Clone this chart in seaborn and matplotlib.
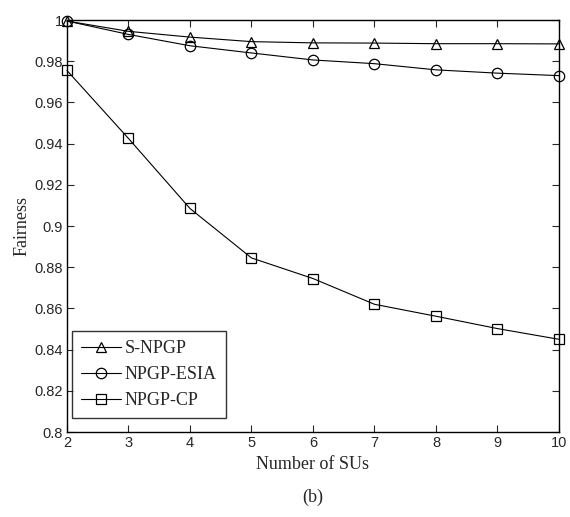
import matplotlib
matplotlib.use("Agg")
import matplotlib.pyplot as plt
import seaborn as sns
import pandas as pd

num_sus = [2, 3, 4, 5, 6, 7, 8, 9, 10]
s_npgp = [0.9995, 0.9945, 0.9917, 0.9895, 0.9889, 0.9888, 0.9885, 0.9885, 0.9884]
npgp_esia = [0.9995, 0.9930, 0.9875, 0.9840, 0.9806, 0.9788, 0.9758, 0.9742, 0.9730]
npgp_cp = [0.9755, 0.9425, 0.9085, 0.8845, 0.8745, 0.8620, 0.8562, 0.8502, 0.8450]
series_names = ["S-NPGP", "NPGP-ESIA", "NPGP-CP"]
series_markers = ["^", "o", "s"]
x_ticks = [2, 3, 4, 5, 6, 7, 8, 9, 10]
y_ticks = [0.8, 0.82, 0.84, 0.86, 0.88, 0.9, 0.92, 0.94, 0.96, 0.98, 1.0]
y_tick_labels = ["0.8", "0.82", "0.84", "0.86", "0.88", "0.9", "0.92", "0.94", "0.96", "0.98", "1"]

sns.set_style("white")
plt.rcParams["font.family"] = ["Liberation Sans", "DejaVu Sans"]

fig = plt.figure(figsize=(5.7, 5.17), dpi=100)
ax = fig.add_axes([0.1175, 0.1644, 0.8632, 0.7969])

for name, vals, mk in zip(series_names, [s_npgp, npgp_esia, npgp_cp], series_markers):
    df = pd.DataFrame({"x": num_sus, "y": vals})
    sns.lineplot(data=df, x="x", y="y", ax=ax, color="black", linewidth=0.8,
                 marker=mk, markersize=7.5, markerfacecolor="none",
                 markeredgecolor="black", markeredgewidth=0.9, label=name,
                 clip_on=False)

ax.set_xlim(2, 10)
ax.set_ylim(0.8, 1.0)
ax.set_xticks(x_ticks)
ax.set_xticklabels([str(v) for v in x_ticks])
ax.set_yticks(y_ticks)
ax.set_yticklabels(y_tick_labels)
ax.tick_params(direction="in", length=5, width=0.8, labelsize=10.5,
               top=True, right=True, left=True, bottom=True, pad=3)
for sp in ax.spines.values():
    sp.set_visible(True)
    sp.set_color("black")
    sp.set_linewidth(1.0)

ax.set_xlabel("Number of SUs", family=["Liberation Serif"], fontsize=13, labelpad=4)
ax.set_ylabel("Fairness", family=["Liberation Serif"], fontsize=13, labelpad=3)

leg = ax.legend(loc="lower left", bbox_to_anchor=(0.0, 0.02),
                prop={"family": "Liberation Serif", "size": 13},
                frameon=True, fancybox=False, edgecolor="black",
                borderpad=0.5, labelspacing=0.5, handlelength=2.2,
                handletextpad=0.2, borderaxespad=0.3)
leg.get_frame().set_linewidth(1.0)

fig.text(0.548, 0.038, "(b)", family=["Liberation Serif"], fontsize=13,
         ha="center", va="center")

fig.savefig("out.png", dpi=100)
